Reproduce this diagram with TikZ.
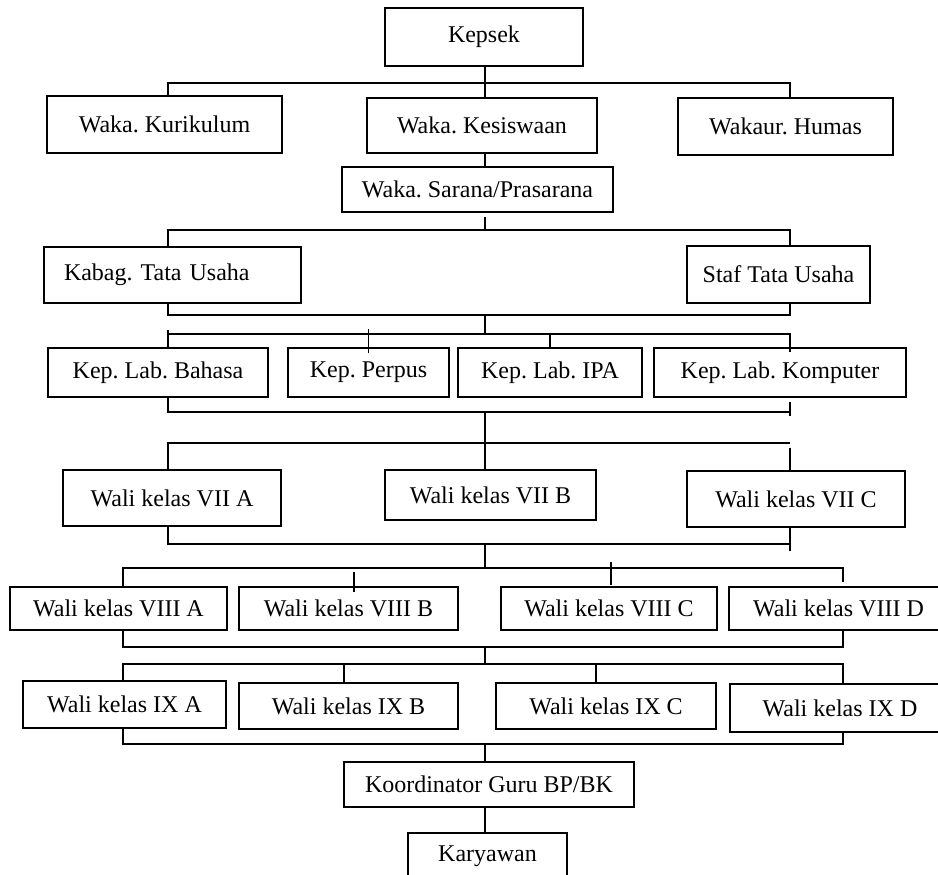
\documentclass[tikz,border=0pt]{standalone}
\usepackage{fontspec}
\setmainfont{Liberation Serif}
\frenchspacing

\tikzset{
  jab/.style={draw, line width=0.8pt, inner sep=0pt, font=\fontsize{12pt}{14pt}\selectfont},
  garis/.style={line width=0.7pt}
}

\begin{document}
\begin{tikzpicture}[x=0.5pt,y=-0.5pt]
\clip (0,0) rectangle (938,874);
% kolom garis
\coordinate (kiri) at (168,0);
\coordinate (tengah) at (485,0);
\coordinate (kanan) at (790,0);
\coordinate (kiri2) at (123,0);
\coordinate (kanan2) at (843,0);
% tinggi garis sambung
\coordinate (bus1) at (485,83);
\coordinate (bus2) at (485,230);
\coordinate (bus3) at (485,315);
\coordinate (bus4) at (485,334);
\coordinate (bus5) at (485,412);
\coordinate (bus6) at (485,443);
\coordinate (bus7) at (485,544);
\coordinate (bus8) at (485,568);
\coordinate (bus9) at (485,647);
\coordinate (bus10) at (485,664);
\coordinate (bus11) at (485,744);

\node[jab, minimum width=99pt, minimum height=29pt] (kepsek) at (484,37) {Kepsek};
\node[jab, minimum width=117.5pt, minimum height=28.5pt] (kurikulum) at (164.5,124.5) {Waka. Kurikulum};
\node[jab, minimum width=115pt, minimum height=27.5pt] (kesiswaan) at (482,125.5) {Waka. Kesiswaan};
\node[jab, minimum width=107.5pt, minimum height=28.5pt] (humas) at (785.5,126.5) {Wakaur. Humas};
\node[jab, minimum width=135.5pt, minimum height=22.5pt] (sarana) at (477.5,189.5) {Waka. Sarana/Prasarana};
\node[jab, minimum height=28pt, inner xsep=10pt, text width=108.5pt, align=left] (kabag) at (172.5,275) {Kabag. Tata Usaha};
\node[jab, minimum width=91.5pt, minimum height=28.5pt] (staf) at (778.5,274.5) {Staf Tata Usaha};
\node[jab, minimum width=110pt, minimum height=24.5pt] (bahasa) at (158,372.5) {Kep. Lab. Bahasa};
\node[jab, minimum width=80.5pt, minimum height=24.5pt] (perpus) at (368.5,372.5) {Kep. Perpus};
\node[jab, minimum width=92pt, minimum height=24.5pt] (ipa) at (550,372.5) {Kep. Lab. IPA};
\node[jab, minimum width=126pt, minimum height=24.5pt] (komputer) at (780,372.5) {Kep. Lab. Komputer};
\node[jab, minimum width=109pt, minimum height=28pt] (viia) at (172,498) {Wali kelas VII A};
\node[jab, minimum width=105.5pt, minimum height=25pt] (viib) at (490.5,495) {Wali kelas VII B};
\node[jab, minimum width=109pt, minimum height=28pt] (viic) at (796,499) {Wali kelas VII C};
\node[jab, minimum width=108.5pt, minimum height=21.5pt] (viiia) at (118.5,608.5) {Wali kelas VIII A};
\node[jab, minimum width=109.5pt, minimum height=21.5pt] (viiib) at (348.5,608.5) {Wali kelas VIII B};
\node[jab, minimum width=108pt, minimum height=21.5pt] (viiic) at (609,608.5) {Wali kelas VIII C};
\node[jab, minimum width=109.5pt, minimum height=21.5pt] (viiid) at (838.5,608.5) {Wali kelas VIII D};
\node[jab, minimum width=101.5pt, minimum height=23.5pt] (ixa) at (124.5,704.5) {Wali kelas IX A};
\node[jab, minimum width=109.5pt, minimum height=23pt] (ixb) at (348.5,706) {Wali kelas IX B};
\node[jab, minimum width=110pt, minimum height=23pt] (ixc) at (606,706) {Wali kelas IX C};
\node[jab, minimum width=110pt, minimum height=24pt] (ixd) at (840,708) {Wali kelas IX D};
\node[jab, minimum width=145pt, minimum height=22.5pt] (bk) at (489,784.5) {Koordinator Guru BP/BK};
\node[jab, minimum width=79.5pt, minimum height=23.5pt] (karyawan) at (487.5,856.5) {Karyawan};

% kepsek dan waka
\draw[garis] (kepsek.south -| tengah) -- (kesiswaan.north -| tengah);
\draw[garis] (kurikulum.north -| kiri) |- (bus1) -| (humas.north -| kanan);
\draw[garis] (kesiswaan.south -| tengah) -- (sarana.north -| tengah);
\draw[garis] (sarana.south -| tengah) ++(0,4) -- (bus2);
% tata usaha
\draw[garis] (kabag.north -| kiri) |- (bus2) -| (staf.north -| kanan);
\draw[garis] (kabag.south -| kiri) |- (bus3) -| (staf.south -| kanan);
\draw[garis] (bus3) -- (bus4);
% kepala lab
\draw[garis] (bus4 -| kiri) ++(0,-4) -- (bahasa.north -| kiri);
\draw[garis] (bus4 -| kiri) -- (bus4 -| kanan) -- ++(0,18);
\draw[garis] (ipa.north) -- (ipa.north |- bus4);
\draw[garis] (perpus.north |- bus4) ++(0,-5) -- ++(0,24);
\draw[garis] (bahasa.south -| kiri) |- (bus5 -| kanan) ++(0,-10) -- ++(0,14);
% wali kelas VII
\draw[garis] (bus5) -- (viib.north -| tengah);
\draw[garis] (viia.north -| kiri) |- (bus6 -| kanan);
\draw[garis] (bus6 -| kanan) ++(0,5) -- (viic.north -| kanan);
\draw[garis] (viia.south -| kiri) |- (bus7 -| kanan);
\draw[garis] (viic.south -| kanan) -- ++(0,23);
% wali kelas VIII
\draw[garis] (bus7) -- (bus8);
\draw[garis] (viiia.north -| kiri2) |- (bus8 -| kanan2) -- ++(0,14);
\draw[garis] (viiib.north) ++(5.5,-14) -- ++(0,20);
\draw[garis] (viiic.north) ++(2,-24) -- ++(0,23);
\draw[garis] (viiia.south -| kiri2) |- (bus9) -| (viiid.south -| kanan2);
% wali kelas IX
\draw[garis] (bus9) -- (bus10);
\draw[garis] (ixa.north -| kiri2) |- (bus10) -| (ixd.north -| kanan2);
\draw[garis] (ixb.north) ++(-4.5,0) -- ++(0,-19);
\draw[garis] (ixc.north) ++(-10,0) -- ++(0,-19);
\draw[garis] (ixa.south -| kiri2) |- (bus11) -| (ixd.south -| kanan2);
% BP/BK dan karyawan
\draw[garis] (bus11) -- (bk.north -| tengah);
\draw[garis] (bk.south -| tengah) -- (karyawan.north -| tengah);
\end{tikzpicture}
\end{document}
